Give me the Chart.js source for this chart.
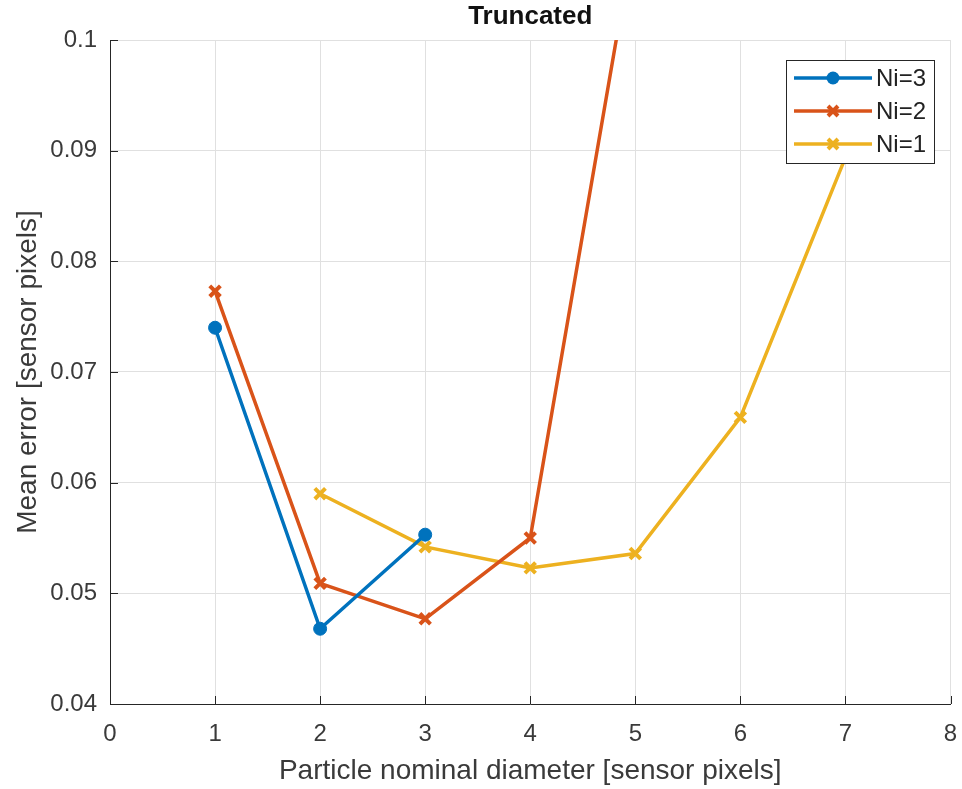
<!DOCTYPE html>
<html>
<head>
<meta charset="utf-8">
<script src="https://cdn.jsdelivr.net/npm/chart.js@4.4.1/dist/chart.umd.min.js"></script>
<style>
  html, body { margin: 0; padding: 0; background: #fff; }
  canvas { display: block; }
</style>
</head>
<body>
<canvas id="chart" width="962" height="789"></canvas>
<script>
// Datos
const xNi3 = [1, 2, 3];
const ni3 = [0.0740, 0.0468, 0.0553];

const xNi2 = [1, 2, 3, 4, 5];
const ni2 = [0.0773, 0.0509, 0.0477, 0.0550, 0.1100];

const xNi1 = [2, 3, 4, 5, 6, 7];
const ni1 = [0.0590, 0.0542, 0.0523, 0.0536, 0.0659, 0.0894];

const xTicks = [0, 1, 2, 3, 4, 5, 6, 7, 8];
const yTicks = [0.04, 0.05, 0.06, 0.07, 0.08, 0.09, 0.1];

const seriesLabels = ['Ni=3', 'Ni=2', 'Ni=1'];
const colors = ['#0072BD', '#D95319', '#EDB120'];
const markers = ['circle', 'crossRot', 'crossRot'];

const textColor = '#3a3a3a';
const gridColor = '#e0e0e0';
const axisColor = '#262626';
const fontFamily = '"Liberation Sans", Arial, Helvetica, sans-serif';

function toPoints(xs, ys) {
    return xs.map((x, i) => ({ x: x, y: ys[i] }));
}

function makeDataset(idx, xs, ys) {
    return {
        label: seriesLabels[idx],
        data: toPoints(xs, ys),
        borderColor: colors[idx],
        backgroundColor: colors[idx],
        borderWidth: 3.5,
        pointStyle: markers[idx],
        pointRadius: markers[idx] === 'circle' ? 6.5 : 7.5,
        pointBorderWidth: markers[idx] === 'circle' ? 1 : 4,
        pointBackgroundColor: colors[idx],
        pointBorderColor: colors[idx],
        tension: 0
    };
}

// Título, marcas interiores y leyenda estilo MATLAB
const matlabPlugin = {
    id: 'matlabExtras',
    afterDraw(chart) {
        const { ctx, chartArea, scales } = chart;
        ctx.save();

        // Título
        ctx.fillStyle = '#111';
        ctx.font = 'bold 26px ' + fontFamily;
        ctx.textAlign = 'center';
        ctx.textBaseline = 'middle';
        ctx.fillText('Truncated', (chartArea.left + chartArea.right) / 2, 17);

        // Marcas hacia dentro
        ctx.strokeStyle = axisColor;
        ctx.lineWidth = 1;
        ctx.beginPath();
        xTicks.forEach(v => {
            const px = Math.round(scales.x.getPixelForValue(v)) + 0.5;
            ctx.moveTo(px, chartArea.bottom);
            ctx.lineTo(px, chartArea.bottom - 8);
        });
        yTicks.forEach(v => {
            const py = Math.round(scales.y.getPixelForValue(v)) + 0.5;
            ctx.moveTo(chartArea.left, py);
            ctx.lineTo(chartArea.left + 8, py);
        });
        ctx.stroke();

        // Leyenda
        const bx = 786, by = 60, bw = 148, bh = 103;
        ctx.fillStyle = '#fff';
        ctx.fillRect(bx, by, bw, bh);
        ctx.strokeStyle = axisColor;
        ctx.lineWidth = 1;
        ctx.strokeRect(bx + 0.5, by + 0.5, bw, bh);

        const rows = [78, 111, 144];
        rows.forEach((ry, i) => {
            ctx.strokeStyle = colors[i];
            ctx.lineWidth = 3.5;
            ctx.beginPath();
            ctx.moveTo(794, ry);
            ctx.lineTo(872, ry);
            ctx.stroke();
            if (markers[i] === 'circle') {
                ctx.fillStyle = colors[i];
                ctx.beginPath();
                ctx.arc(833, ry, 6.5, 0, Math.PI * 2);
                ctx.fill();
            } else {
                ctx.lineWidth = 4;
                ctx.beginPath();
                ctx.moveTo(828, ry - 5); ctx.lineTo(838, ry + 5);
                ctx.moveTo(828, ry + 5); ctx.lineTo(838, ry - 5);
                ctx.stroke();
            }
            ctx.fillStyle = '#222';
            ctx.font = '24px ' + fontFamily;
            ctx.textAlign = 'left';
            ctx.textBaseline = 'middle';
            ctx.fillText(seriesLabels[i], 876, ry + 1);
        });

        ctx.restore();
    }
};

const ctx = document.getElementById('chart').getContext('2d');

new Chart(ctx, {
    type: 'line',
    data: {
        datasets: [
            makeDataset(0, xNi3, ni3),
            makeDataset(1, xNi2, ni2),
            makeDataset(2, xNi1, ni1)
        ]
    },
    options: {
        responsive: false,
        animation: false,
        layout: {
            padding: { top: 40, right: 9, left: 0, bottom: 0 }
        },
        plugins: {
            legend: { display: false },
            title: { display: false },
            tooltip: { enabled: false }
        },
        scales: {
            x: {
                type: 'linear',
                min: 0,
                max: 8,
                afterFit(scale) {
                    scale.height = 85;
                    scale.paddingLeft = 0;
                    scale.paddingRight = 0;
                },
                afterBuildTicks(scale) { scale.ticks = xTicks.map(v => ({ value: v })); },
                grid: { color: gridColor, drawTicks: false },
                border: { color: axisColor, width: 1 },
                ticks: {
                    color: textColor,
                    padding: 16,
                    font: { family: fontFamily, size: 24 }
                },
                title: {
                    display: true,
                    text: 'Particle nominal diameter [sensor pixels]',
                    color: textColor,
                    padding: { top: 0, bottom: 1 },
                    font: { family: fontFamily, size: 28 }
                }
            },
            y: {
                type: 'linear',
                min: 0.04,
                max: 0.1,
                afterFit(scale) {
                    scale.width = 110;
                    scale.paddingTop = 0;
                    scale.paddingBottom = 0;
                },
                afterBuildTicks(scale) { scale.ticks = yTicks.map(v => ({ value: v })); },
                grid: { color: gridColor, drawTicks: false },
                border: { color: axisColor, width: 1 },
                ticks: {
                    color: textColor,
                    padding: 13,
                    font: { family: fontFamily, size: 24 },
                    callback: v => String(Number(v.toFixed(2)))
                },
                title: {
                    display: true,
                    text: 'Mean error [sensor pixels]',
                    color: textColor,
                    padding: { top: 11, bottom: 0 },
                    font: { family: fontFamily, size: 28 }
                }
            }
        }
    },
    plugins: [matlabPlugin]
});
</script>
</body>
</html>
